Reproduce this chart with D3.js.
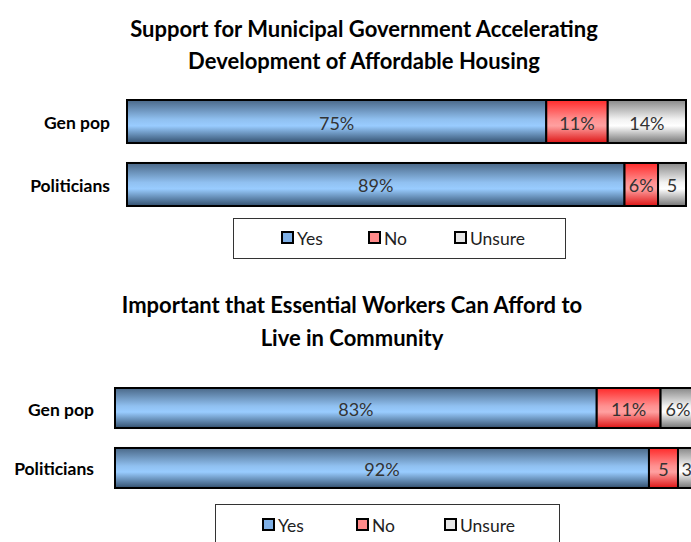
<!DOCTYPE html>
<html>
<head>
<meta charset="utf-8">
<script src="https://cdn.jsdelivr.net/npm/d3@7"></script>
<style>
  html, body { margin: 0; padding: 0; background: #fff; }
  svg { display: block; font-family: Lato, "Open Sans", sans-serif; }
</style>
</head>
<body>
<svg id="chart" width="691" height="542"></svg>
<script>
// Survey groups and answer categories
const categories = ["Gen pop", "Politicians"];
const seriesNames = ["Yes", "No", "Unsure"];

// Support for municipal government accelerating affordable housing (%)
const housingYes = [75, 89];
const housingNo = [11, 6];
const housingUnsure = [14, 5];
const housingLabels = [["75%", "11%", "14%"], ["89%", "6%", "5"]];

// Important that essential workers can afford to live in community (%)
const workersYes = [83, 92];
const workersNo = [11, 5];
const workersUnsure = [6, 3];
const workersLabels = [["83%", "11%", "6%"], ["92%", "5", "3"]];

const svg = d3.select("#chart");
const defs = svg.append("defs");

// Bevelled look: darker at the top and bottom edge, lighter through the middle
const gradients = {
  Yes:    ["#4a6888", "#90c0f0", "#99ccff", "#33506e"],
  No:     ["#ff2a2a", "#ff9090", "#ffa0a0", "#dd1515"],
  Unsure: ["#888888", "#f2f2f2", "#ffffff", "#747474"]
};
const swatchFill = { Yes: "#7fb0e6", No: "#ff8a8a", Unsure: "#e6e6e6" };

Object.entries(gradients).forEach(([name, c]) => {
  const g = defs.append("linearGradient")
    .attr("id", "grad-" + name)
    .attr("x1", 0).attr("y1", 0).attr("x2", 0).attr("y2", 1);
  g.append("stop").attr("offset", "0%").attr("stop-color", c[0]);
  g.append("stop").attr("offset", "45%").attr("stop-color", c[1]);
  g.append("stop").attr("offset", "60%").attr("stop-color", c[2]);
  g.append("stop").attr("offset", "100%").attr("stop-color", c[3]);
});

function drawPanel(cfg) {
  const g = svg.append("g");

  // Title, two centred lines
  cfg.title.forEach((line, i) => {
    g.append("text")
      .attr("x", cfg.titleX)
      .attr("y", cfg.titleY + i * cfg.titleGap)
      .attr("text-anchor", "middle")
      .attr("font-size", 22)
      .attr("font-weight", 700)
      .attr("fill", "#000")
      .text(line);
  });

  const x = d3.scaleLinear().domain([0, 100]).range(cfg.xRange);
  const y = d3.scaleBand().domain(categories).range(cfg.yRange)
    .paddingInner(cfg.padding).paddingOuter(0);

  const rows = categories.map((cat, i) => ({
    cat,
    values: [cfg.yes[i], cfg.no[i], cfg.unsure[i]],
    labels: cfg.labels[i]
  }));

  rows.forEach(row => {
    let acc = 0;
    const segs = row.values.map((v, j) => {
      const s = { name: seriesNames[j], x0: acc, x1: acc + v, label: row.labels[j] };
      acc += v;
      return s;
    });

    const rowG = g.append("g");
    rowG.selectAll("rect")
      .data(segs)
      .join("rect")
      .attr("x", d => x(d.x0))
      .attr("y", y(row.cat))
      .attr("width", d => x(d.x1) - x(d.x0))
      .attr("height", y.bandwidth())
      .attr("fill", d => `url(#grad-${d.name})`)
      .attr("stroke", "#000")
      .attr("stroke-width", 2);

    rowG.selectAll("text")
      .data(segs)
      .join("text")
      .attr("x", d => (x(d.x0) + x(d.x1)) / 2)
      .attr("y", y(row.cat) + y.bandwidth() / 2 + 1)
      .attr("text-anchor", "middle")
      .attr("dominant-baseline", "central")
      .attr("font-size", 18)
      .attr("fill", "#333")
      .text(d => d.label);

    // Category label
    g.append("text")
      .attr("x", cfg.labelX)
      .attr("y", y(row.cat) + y.bandwidth() / 2 + 1)
      .attr("text-anchor", "end")
      .attr("dominant-baseline", "central")
      .attr("font-size", 17.5)
      .attr("font-weight", 700)
      .attr("fill", "#000")
      .text(row.cat);
  });

  // Legend box
  const lg = g.append("g");
  lg.append("rect")
    .attr("x", cfg.legend.x)
    .attr("y", cfg.legend.y)
    .attr("width", cfg.legend.w)
    .attr("height", cfg.legend.h)
    .attr("fill", "#fff")
    .attr("stroke", "#333")
    .attr("stroke-width", 1);

  seriesNames.forEach((name, i) => {
    const sx = cfg.legend.items[i];
    const cy = cfg.legend.y + cfg.legend.cy;
    lg.append("rect")
      .attr("x", sx)
      .attr("y", cy - 5.5)
      .attr("width", 11)
      .attr("height", 11)
      .attr("fill", swatchFill[name])
      .attr("stroke", "#000")
      .attr("stroke-width", 2);
    lg.append("text")
      .attr("x", sx + 15)
      .attr("y", cy + 1)
      .attr("dominant-baseline", "central")
      .attr("font-size", 17.5)
      .attr("fill", "#222")
      .text(name);
  });
}

drawPanel({
  title: ["Support for Municipal Government Accelerating", "Development of Affordable Housing"],
  titleX: 364, titleY: 37, titleGap: 32,
  xRange: [127, 686], yRange: [100, 206], padding: 0.317,
  yes: housingYes, no: housingNo, unsure: housingUnsure, labels: housingLabels,
  labelX: 110,
  legend: { x: 233.5, y: 218.5, w: 332, h: 40, cy: 19, items: [282, 369, 455] }
});

drawPanel({
  title: ["Important that Essential Workers Can Afford to", "Live in Community"],
  titleX: 352, titleY: 313, titleGap: 33,
  xRange: [115, 695.4], yRange: [388, 488], padding: 0.333,
  yes: workersYes, no: workersNo, unsure: workersUnsure, labels: workersLabels,
  labelX: 94,
  legend: { x: 215.5, y: 504.5, w: 344, h: 44, cy: 20, items: [263, 357, 445] }
});
</script>
</body>
</html>
